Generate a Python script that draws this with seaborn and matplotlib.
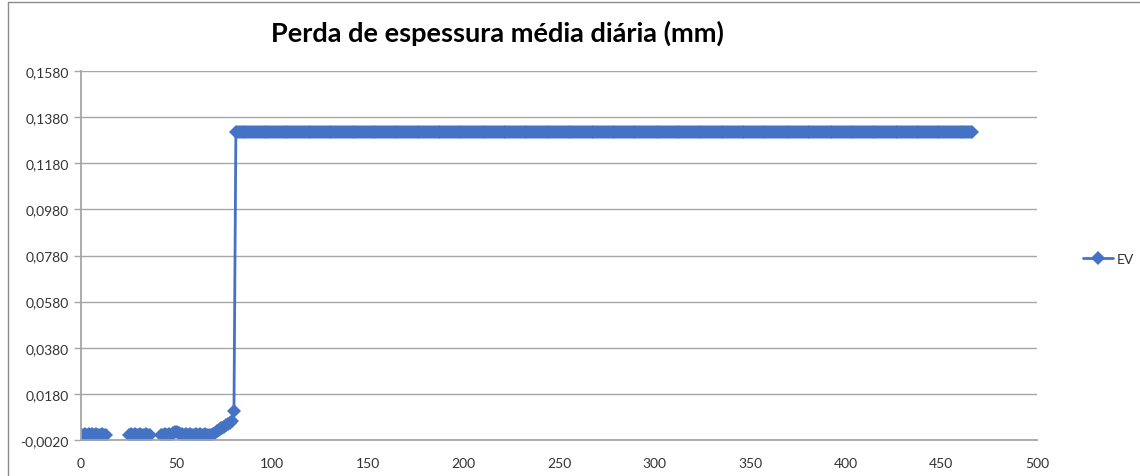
import numpy as np
import pandas as pd
import matplotlib
matplotlib.use("Agg")
import matplotlib.pyplot as plt
from matplotlib.lines import Line2D
import seaborn as sns

# Daily average thickness loss (mm) - series "EV"
days_a = list(range(0, 14))
ev_a = [0.0003, 0.0002, 0.0005, 0.0001, 0.0006, 0.0003, 0.0008,
        0.0002, 0.0005, 0.0003, 0.0001, 0.0004, 0.0002, 0.0000]

days_b = list(range(25, 37))
ev_b = [0.0002, 0.0005, 0.0000, 0.0006, 0.0003, 0.0002,
        0.0007, 0.0003, 0.0001, 0.0005, 0.0002, 0.0003]

days_c = list(range(42, 81))
ev_c = [0.0003, 0.0001, 0.0006, 0.0002, 0.0005, 0.0003, 0.0009, 0.0014,
        0.0016, 0.0010, 0.0006, 0.0004, 0.0003, 0.0006, 0.0002, 0.0005,
        0.0003, 0.0001, 0.0005, 0.0002, 0.0006, 0.0003, 0.0002, 0.0005,
        0.0001, 0.0003, 0.0002, 0.0005,
        0.0012, 0.0018, 0.0025, 0.0030, 0.0034, 0.0038, 0.0043, 0.0048,
        0.0055, 0.0062, 0.0107]

# From day 81 on the loss stays at the same level
days_d = list(range(81, 467))
plateau = 0.1316
ev_d = [plateau] * len(days_d)

y_ticks = [-0.002, 0.018, 0.038, 0.058, 0.078, 0.098, 0.118, 0.138, 0.158]
x_ticks = [0, 50, 100, 150, 200, 250, 300, 350, 400, 450, 500]

title = "Perda de espessura média diária (mm)"
series_name = "EV"

# Missing days break the line, so each run of days is its own segment
frames = []
for seg, (d, v) in enumerate([(days_a, ev_a), (days_b, ev_b),
                              (days_c + days_d, ev_c + ev_d)]):
    frames.append(pd.DataFrame({"dia": d, "valor": v, "segmento": seg}))
df = pd.concat(frames, ignore_index=True)

sns.set_theme(style="white")
plt.rcParams["font.family"] = ["Lato", "DejaVu Sans"]

blue = "#4472C4"
grid_gray = "#A6A6A6"
text_color = "#333333"

fig = plt.figure(figsize=(11.4, 4.77), dpi=100)
ax = fig.add_axes([81 / 1140, 1 - 441 / 477, (1037 - 81) / 1140, (441 - 72) / 477])

sns.lineplot(data=df, x="dia", y="valor", units="segmento", estimator=None,
             color=blue, linewidth=2, marker="D", markersize=7,
             markeredgewidth=0, legend=False, ax=ax)

ax.set_xlim(0, 500)
ax.set_ylim(-0.002, 0.158)
ax.set_xticks(x_ticks)
ax.set_yticks(y_ticks)
ax.set_xticklabels([str(t) for t in x_ticks])
ax.set_yticklabels([f"{t:.4f}".replace(".", ",") for t in y_ticks])
ax.set_xlabel("")
ax.set_ylabel("")

ax.yaxis.grid(True, color=grid_gray, linewidth=1)
ax.xaxis.grid(False)
ax.set_axisbelow(True)
for side in ["top", "right"]:
    ax.spines[side].set_visible(False)
for side in ["left", "bottom"]:
    ax.spines[side].set_color(grid_gray)
    ax.spines[side].set_linewidth(1.3)
ax.tick_params(axis="y", which="major", left=True, length=5, width=1,
               color=grid_gray, labelsize=10, labelcolor=text_color, pad=4)
ax.tick_params(axis="x", which="major", bottom=False, labelsize=10,
               labelcolor=text_color, pad=6)

fig.text(497 / 1140, 1 - 33 / 477, title, ha="center", va="center",
         fontsize=19.5, fontweight="bold", color="black")

handle = Line2D([], [], color=blue, linewidth=2, marker="D", markersize=7,
                markeredgewidth=0)
fig.legend([handle], [series_name], loc="center left",
           bbox_to_anchor=(1070 / 1140, 1 - 260 / 477), frameon=False,
           fontsize=10, handlelength=2.2, handletextpad=0.3,
           labelcolor=text_color)

# Chart area frame on the left and top
fig.add_artist(Line2D([8 / 1140, 8 / 1140], [0, 1 - 3 / 477],
                      transform=fig.transFigure, color="#8C8C8C", linewidth=1))
fig.add_artist(Line2D([8 / 1140, 1], [1 - 3 / 477, 1 - 3 / 477],
                      transform=fig.transFigure, color="#8C8C8C", linewidth=1))

fig.savefig("out.png", dpi=100, facecolor="white")
